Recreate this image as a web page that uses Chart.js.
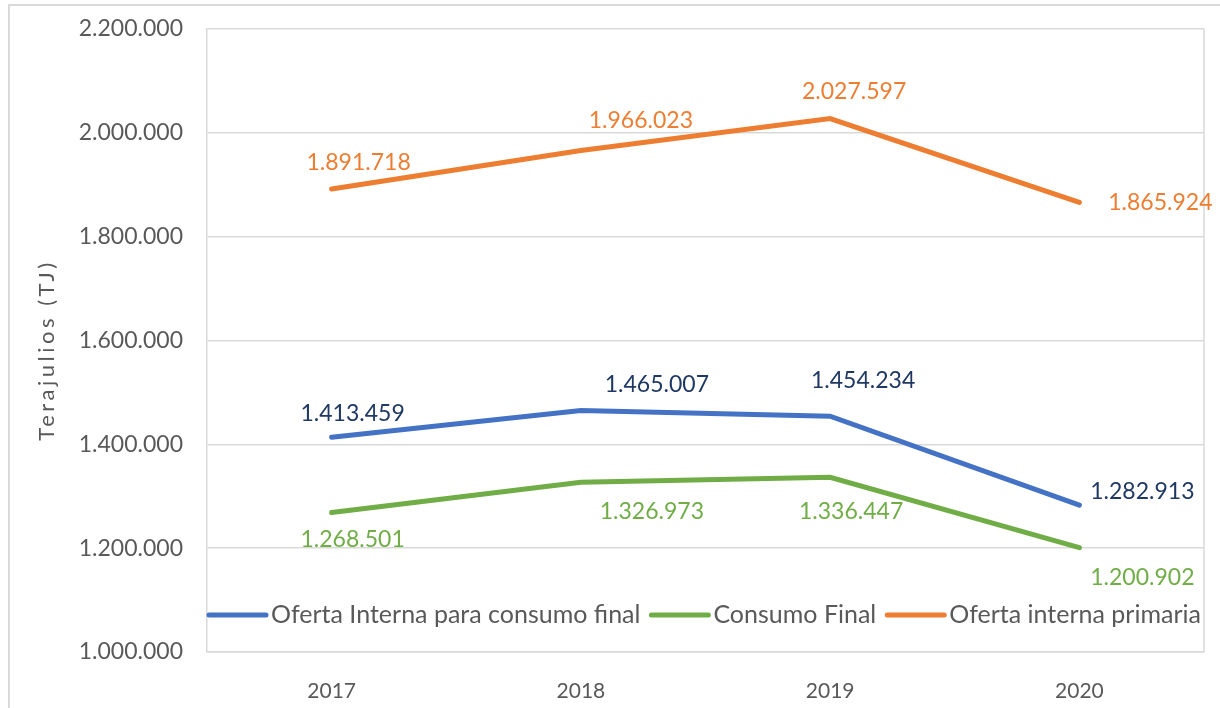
<!DOCTYPE html>
<html lang="es">
  <head>
    <meta charset="UTF-8" />
    <script src="https://cdn.jsdelivr.net/npm/chart.js@4.4.0/dist/chart.umd.min.js"></script>
    <title>Oferta y consumo de energía</title>
    <style>
      body {
        margin: 0;
        padding: 0;
        background: #fff;
      }

      .container {
        position: relative;
        width: 1220px;
        height: 708px;
      }
    </style>
  </head>
  <body>
    <div class="container">
      <canvas id="chart"></canvas>
    </div>
    <script>
      const years = ['2017', '2018', '2019', '2020']
      const ofertaFinal = [1413459, 1465007, 1454234, 1282913]
      const consumoFinal = [1268501, 1326973, 1336447, 1200902]
      const ofertaPrimaria = [1891718, 1966023, 2027597, 1865924]
      const yMin = 1000000
      const yMax = 2200000
      const yStep = 200000
      const yTitle = 'Terajulios (TJ)'

      // where each data label sits relative to its point (dx, dy)
      const labelPos = [
        [[21, -24], [76, -26], [33, -36], [63, -14]],
        [[21, 27], [71, 29], [21, 34], [63, 30]],
        [[27, -26], [60, -30], [24, -27], [81, 0]],
      ]

      const gray = '#595959'
      const fontFamily = 'Lato, "Open Sans", sans-serif'

      const format = (num) =>
        String(num).replace(/\B(?=(\d{3})+(?!\d))/g, '.')

      const extras = {
        id: 'extras',
        beforeDraw(chart) {
          const ctx = chart.ctx
          ctx.save()
          ctx.strokeStyle = '#d9d9d9'
          ctx.lineWidth = 2
          ctx.strokeRect(9, 5, 1240, 740)

          // y axis title, spaced out like the original
          ctx.translate(47, 350)
          ctx.rotate(-Math.PI / 2)
          ctx.font = '22px ' + fontFamily
          ctx.letterSpacing = '3.5px'
          ctx.fillStyle = gray
          ctx.textAlign = 'center'
          ctx.textBaseline = 'middle'
          ctx.fillText(yTitle, 0, 0)
          ctx.restore()
        },
        afterDatasetsDraw(chart) {
          const ctx = chart.ctx
          const area = chart.chartArea
          ctx.save()
          // right edge of the plot area
          ctx.strokeStyle = '#d9d9d9'
          ctx.lineWidth = 1.5
          ctx.beginPath()
          ctx.moveTo(area.right, area.top)
          ctx.lineTo(area.right, area.bottom)
          ctx.stroke()

          // data labels
          ctx.font = '23px ' + fontFamily
          ctx.textAlign = 'center'
          ctx.textBaseline = 'middle'
          chart.data.datasets.forEach((ds, i) => {
            const meta = chart.getDatasetMeta(i)
            meta.data.forEach((pt, j) => {
              const [dx, dy] = labelPos[i][j]
              ctx.fillStyle = ds.labelColor
              ctx.fillText(format(ds.data[j]), pt.x + dx, pt.y + dy)
            })
          })

          // legend inside the plot area
          let x = area.left
          const y = 615
          ctx.textAlign = 'left'
          ctx.font = '25px ' + fontFamily
          chart.data.datasets.forEach((ds) => {
            ctx.strokeStyle = ds.borderColor
            ctx.lineWidth = 5
            ctx.lineCap = 'round'
            ctx.beginPath()
            ctx.moveTo(x + 2, y)
            ctx.lineTo(x + 59, y)
            ctx.stroke()
            ctx.fillStyle = gray
            ctx.fillText(ds.label, x + 64, y)
            x += 64 + ctx.measureText(ds.label).width + 9
          })
          ctx.restore()
        },
      }

      const ctx = document.getElementById('chart').getContext('2d')
      const chart = new Chart(ctx, {
        type: 'line',
        data: {
          labels: years,
          datasets: [
            {
              label: 'Oferta Interna para consumo final',
              data: ofertaFinal,
              borderColor: '#4472C4',
              labelColor: '#1F3864',
            },
            {
              label: 'Consumo Final',
              data: consumoFinal,
              borderColor: '#70AD47',
              labelColor: '#70AD47',
            },
            {
              label: 'Oferta interna primaria',
              data: ofertaPrimaria,
              borderColor: '#ED7D31',
              labelColor: '#ED7D31',
            },
          ],
        },
        options: {
          responsive: true,
          maintainAspectRatio: false,
          animation: false,
          layout: {
            padding: { left: 0, right: 16, top: 29, bottom: 0 },
          },
          elements: {
            line: { borderWidth: 5, tension: 0, borderCapStyle: 'round' },
            point: { radius: 0, hoverRadius: 0 },
          },
          plugins: {
            legend: { display: false },
            tooltip: { enabled: false },
          },
          scales: {
            x: {
              offset: true,
              afterFit: (scale) => {
                scale.height = 56
              },
              grid: { display: false },
              border: { color: '#d9d9d9', width: 1.5 },
              ticks: {
                color: gray,
                font: { family: fontFamily, size: 21 },
                padding: 19,
                maxRotation: 0,
              },
            },
            y: {
              min: yMin,
              max: yMax,
              afterFit: (scale) => {
                scale.width = 207
                scale.paddingTop = 4
                scale.paddingBottom = 4
              },
              grid: { color: '#d9d9d9', lineWidth: 1.5, drawTicks: false },
              border: { color: '#d9d9d9', width: 1.5 },
              ticks: {
                stepSize: yStep,
                color: gray,
                padding: 24,
                font: { family: fontFamily, size: 23 },
                callback: (v) => format(v),
              },
            },
          },
        },
        plugins: [extras],
      })
    </script>
  </body>
</html>
